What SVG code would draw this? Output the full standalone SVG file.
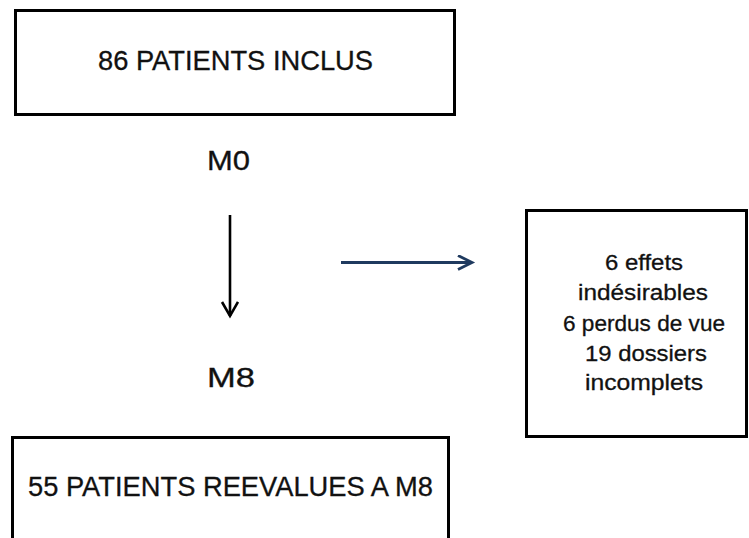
<svg xmlns="http://www.w3.org/2000/svg" width="749" height="538" viewBox="0 0 749 538">
<style>
.box{fill:#ffffff;stroke:#000000;stroke-width:3}
.t{font-family:"Liberation Sans",Arial,sans-serif;fill:#111111;text-anchor:middle;stroke:#111111;stroke-width:0.3}
.big{font-size:27px}
.sm{font-size:22px}
</style>
<defs>
<marker id="ahBlack" markerWidth="20" markerHeight="20" refX="15" refY="9" orient="auto" markerUnits="userSpaceOnUse" viewBox="0 0 20 20">
<path d="M1,1 L15,9 L1,17" fill="none" stroke="#000000" stroke-width="2.6" stroke-linejoin="miter"/>
</marker>
<marker id="ahBlue" markerWidth="20" markerHeight="20" refX="15" refY="8" orient="auto" markerUnits="userSpaceOnUse" viewBox="0 0 20 20">
<path d="M1,1 L15,8 L1,15" fill="none" stroke="#1f3a5f" stroke-width="2.8" stroke-linejoin="miter"/>
</marker>
</defs>
<rect width="749" height="538" fill="#ffffff"/>
<g id="node-inclus">
<rect class="box" x="15.5" y="10.5" width="439" height="104"/>
<text class="t big" x="235.5" y="70" textLength="275" lengthAdjust="spacingAndGlyphs">86 PATIENTS INCLUS</text>
</g>
<g id="label-m0">
<text class="t big" x="228.5" y="170" textLength="43" lengthAdjust="spacingAndGlyphs">M0</text>
</g>
<g id="label-m8">
<text class="t big" x="231" y="387" textLength="48" lengthAdjust="spacingAndGlyphs">M8</text>
</g>
<g id="node-exclus">
<rect class="box" x="526.5" y="210.5" width="220" height="226"/>
<text class="t sm" x="644" y="270" textLength="78" lengthAdjust="spacingAndGlyphs">6 effets</text>
<text class="t sm" x="643" y="300" textLength="130" lengthAdjust="spacingAndGlyphs">indésirables</text>
<text class="t sm" x="644" y="331" textLength="162" lengthAdjust="spacingAndGlyphs">6 perdus de vue</text>
<text class="t sm" x="646" y="361" textLength="122" lengthAdjust="spacingAndGlyphs">19 dossiers</text>
<text class="t sm" x="644" y="390" textLength="118" lengthAdjust="spacingAndGlyphs">incomplets</text>
</g>
<g id="node-reevalues">
<rect class="box" x="12.5" y="437.5" width="436" height="110"/>
<text class="t big" x="230.5" y="496" textLength="405" lengthAdjust="spacingAndGlyphs">55 PATIENTS REEVALUES A M8</text>
</g>
<g id="connectors">
<line x1="230" y1="215" x2="230" y2="316" stroke="#000000" stroke-width="2.6" marker-end="url(#ahBlack)"/>
<line x1="341" y1="262.5" x2="472" y2="262.5" stroke="#1f3a5f" stroke-width="3" marker-end="url(#ahBlue)"/>
</g>
</svg>
